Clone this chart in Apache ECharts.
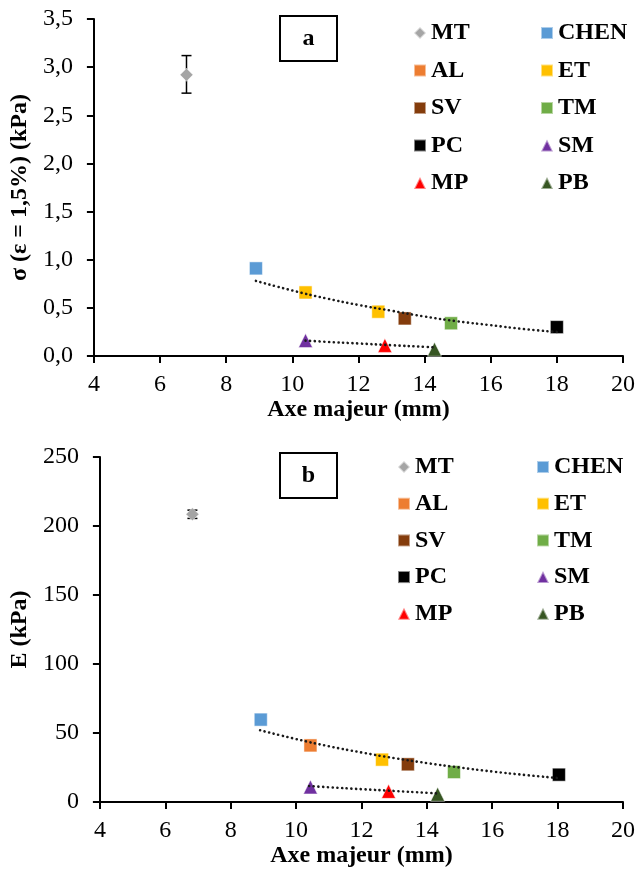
<!DOCTYPE html>
<html>
<head>
<meta charset="utf-8">
<script src="https://cdn.jsdelivr.net/npm/echarts@6/dist/echarts.min.js"></script>
<style>
html,body{margin:0;padding:0;background:#fff;}
#c{width:638px;height:869px;}
</style>
</head>
<body>
<div id="c"></div>
<script>
// ---------- data ----------
var seriesNames = ['MT','CHEN','AL','ET','SV','TM','PC','SM','MP','PB'];
var seriesColors = ['#A5A5A5','#5B9BD5','#ED7D31','#FFC000','#843C0C','#70AD47','#000000','#7030A0','#FF0000','#375623'];
var seriesSymbols = ['diamond','rect','rect','rect','rect','rect','rect','triangle','triangle','triangle'];

// Chart a : sigma (eps = 1.5%) in kPa vs major axis (mm)
var aMT   = [[6.8, 2.92]];
var aCHEN = [[8.9, 0.91]];
var aAL   = [[10.4, 0.66]];
var aET   = [[10.4, 0.66],[12.6, 0.46]];
var aSV   = [[13.4, 0.39]];
var aTM   = [[14.8, 0.34]];
var aPC   = [[18.0, 0.30]];
var aSM   = [[10.4, 0.16]];
var aMP   = [[12.8, 0.11]];
var aPB   = [[14.3, 0.07]];
var aErr  = [[6.8, 2.73, 3.12]];
var aTrend1 = [[8.9,0.78],[10,0.68],[11,0.60],[12,0.53],[13,0.47],[14,0.41],[15,0.36],[16,0.32],[17,0.28],[18,0.25]];
var aTrend2 = [[10.4,0.16],[11,0.148],[12,0.130],[13,0.112],[14,0.095],[14.3,0.09]];

// Chart b : E in kPa vs major axis (mm)
var bMT   = [[6.83, 208.5]];
var bCHEN = [[8.92, 59.7]];
var bAL   = [[10.44, 41.0]];
var bET   = [[12.63, 30.7]];
var bSV   = [[13.42, 27.3]];
var bTM   = [[14.83, 21.7]];
var bPC   = [[18.04, 19.8]];
var bSM   = [[10.44, 10.9]];
var bMP   = [[12.83, 7.7]];
var bPB   = [[14.33, 5.6]];
var bErr  = [[6.83, 205.5, 211.5]];
var bTrend1 = [[8.9,52],[10,45.6],[11,40.4],[12,35.9],[13,31.8],[14,28.2],[15,25.0],[16,22.1],[17,19.6],[18,17.4]];
var bTrend2 = [[10.4,11.6],[11,10.7],[12,9.3],[13,8.0],[14,6.7],[14.3,6.2]];

var xTicks = {min:4, max:20, interval:2};
var aYTicks = {min:0, max:3.5, interval:0.5};
var bYTicks = {min:0, max:250, interval:50};

var legendLeftCol = ['MT','AL','SV','PC','MP'];
var legendRightCol = ['CHEN','ET','TM','SM','PB'];

var xName = 'Axe majeur (mm)';
var aYName = 'σ (ε = 1,5%) (kPa)';
var bYName = 'E (kPa)';

// ---------- chart ----------
var FONT = '"Liberation Serif","Times New Roman",serif';
var chart = echarts.init(document.getElementById('c'), null, {renderer:'canvas'});

var aData = [aMT,aCHEN,aAL,aET,aSV,aTM,aPC,aSM,aMP,aPB];
var bData = [bMT,bCHEN,bAL,bET,bSV,bTM,bPC,bSM,bMP,bPB];

function axisCommon(){
  return {
    axisLine:{show:true, onZero:false, lineStyle:{color:'#000', width:2}},
    axisTick:{show:true, inside:false, length:7, lineStyle:{color:'#000', width:2}},
    splitLine:{show:false},
    nameTextStyle:{fontFamily:FONT, fontWeight:'bold', fontSize:24, color:'#000'}
  };
}
function xAxis(gi){
  return Object.assign(axisCommon(), {
    type:'value', gridIndex:gi, min:xTicks.min, max:xTicks.max, interval:xTicks.interval,
    name:xName, nameLocation:'middle', nameGap:42,
    axisLabel:{fontFamily:FONT, fontSize:24, color:'#000', margin:17}
  });
}
function yAxis(gi, t, name, gap, dec){
  return Object.assign(axisCommon(), {
    type:'value', gridIndex:gi, min:t.min, max:t.max, interval:t.interval,
    name:name, nameLocation:'middle', nameGap:gap,
    axisLabel:{fontFamily:FONT, fontSize:24, color:'#000', margin:21,
      formatter:function(v){ return dec ? v.toFixed(1).replace('.',',') : String(v); }}
  });
}

function errSeries(data, gi){
  return {
    type:'custom', xAxisIndex:gi, yAxisIndex:gi, data:data, z:1, silent:true,
    renderItem:function(params, api){
      var lo = api.coord([api.value(0), api.value(1)]);
      var hi = api.coord([api.value(0), api.value(2)]);
      var w = 5;
      var st = {stroke:'#000', lineWidth:1.5};
      return {type:'group', children:[
        {type:'line', shape:{x1:lo[0], y1:lo[1], x2:hi[0], y2:hi[1]}, style:st},
        {type:'line', shape:{x1:lo[0]-w, y1:lo[1], x2:lo[0]+w, y2:lo[1]}, style:st},
        {type:'line', shape:{x1:hi[0]-w, y1:hi[1], x2:hi[0]+w, y2:hi[1]}, style:st}
      ]};
    }
  };
}
function trendSeries(data, gi){
  return {
    type:'line', xAxisIndex:gi, yAxisIndex:gi, data:data, smooth:true, symbol:'none', z:3, silent:true,
    lineStyle:{color:'#1a1a1a', width:2.6, type:[0.1,4.6], cap:'round'}
  };
}

var series = [];
[aErr].forEach(function(d){ series.push(errSeries(d,0)); });
[bErr].forEach(function(d){ series.push(errSeries(d,1)); });
[aData, bData].forEach(function(set, gi){
  set.forEach(function(d, i){
    series.push({
      type:'scatter', name:seriesNames[i], xAxisIndex:gi, yAxisIndex:gi, data:d,
      symbol:seriesSymbols[i], symbolSize: seriesSymbols[i]==='diamond' ? 13 : (seriesSymbols[i]==='triangle' ? 14 : 13),
      itemStyle:{color:seriesColors[i], borderColor:'rgba(255,255,255,0.5)', borderWidth:1, opacity:1},
      z:2
    });
  });
});
series.push(trendSeries(aTrend1,0));
series.push(trendSeries(aTrend2,0));
series.push(trendSeries(bTrend1,1));
series.push(trendSeries(bTrend2,1));

function legendData(names){
  return names.map(function(n){
    var i = seriesNames.indexOf(n);
    return {name:n, icon:seriesSymbols[i], itemStyle:{color:seriesColors[i]}};
  });
}
function legend(names, left, top, gap){
  return {
    data:legendData(names), orient:'vertical', left:left, top:top, itemGap:gap,
    itemWidth:12, itemHeight:12, padding:0, selectedMode:false,
    textStyle:{fontFamily:FONT, fontWeight:'bold', fontSize:24, color:'#000', lineHeight:24}
  };
}

function boxGraphic(letter, x, y){
  return {
    type:'group', left:x, top:y, children:[
      {type:'rect', shape:{x:0, y:0, width:57, height:45}, style:{fill:'#fff', stroke:'#000', lineWidth:2}},
      {type:'text', x:28.5, y:22.5, style:{text:letter, fontFamily:FONT, fontWeight:'bold', fontSize:24, fill:'#000', align:'center', verticalAlign:'middle'}}
    ]
  };
}

chart.setOption({
  animation:false,
  backgroundColor:'#fff',
  grid:[
    {left:92, top:19, width:533, height:337},
    {left:97, top:457, width:527, height:345}
  ],
  xAxis:[xAxis(0), xAxis(1)],
  yAxis:[yAxis(0, aYTicks, aYName, 54, true), yAxis(1, bYTicks, bYName, 59, false)],
  legend:[
    legend(legendLeftCol, 413, 21, 13.5),
    legend(legendRightCol, 540, 21, 13.5),
    legend(legendLeftCol, 397, 455, 12.7),
    legend(legendRightCol, 536, 455, 12.7)
  ],
  graphic:[boxGraphic('a', 279, 15), boxGraphic('b', 279, 452)],
  series:series
});
</script>
</body>
</html>
